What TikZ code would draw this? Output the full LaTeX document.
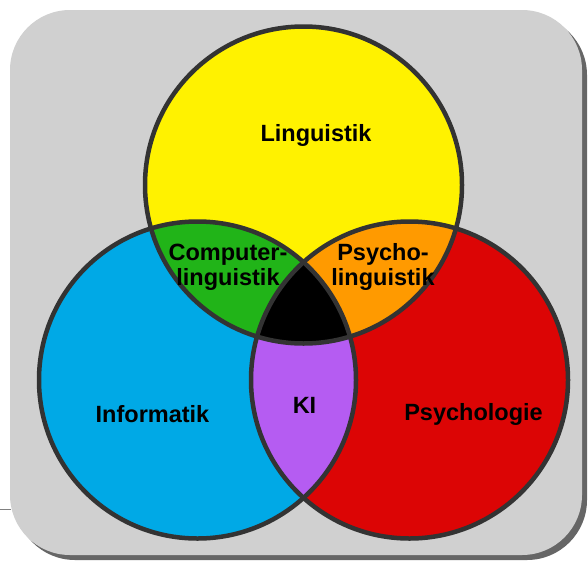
\documentclass[tikz,border=0pt]{standalone}
\usepackage{fontspec}
\setmainfont{Liberation Sans}
\definecolor{bggray}{HTML}{D0D0D0}
\definecolor{shadowgray}{HTML}{666666}
\definecolor{edge}{HTML}{333333}
\definecolor{cyellow}{HTML}{FFF200}
\definecolor{cblue}{HTML}{00A9E6}
\definecolor{cred}{HTML}{DC0505}
\definecolor{cgreen}{HTML}{21B418}
\definecolor{corange}{HTML}{FF9A00}
\definecolor{cpurple}{HTML}{B55CF2}
\tikzset{
  lbl/.style={font=\fontsize{23.5}{25}\selectfont\bfseries, inner sep=0pt, align=center, text=black},
  ring/.style={draw=edge, line width=4.5pt}
}
\begin{document}
\begin{tikzpicture}[x=1pt,y=-1pt]
\useasboundingbox (0,0) rectangle (588,562);
% stray line at left
\draw[gray, line width=1pt] (0,509) -- (11,509);
% background panel with shadow
\fill[shadowgray, rounded corners=60pt] (15,15) rectangle (587,560);
\fill[bggray, rounded corners=60pt] (10,10) rectangle (582,555);
% circle centres
\coordinate (L) at (303.5,185);
\coordinate (I) at (197.5,380);
\coordinate (P) at (409.5,380);
\def\rr{158.5pt}
% base fills
\fill[cyellow] (L) circle[radius=\rr];
\fill[cblue] (I) circle[radius=\rr];
\fill[cred] (P) circle[radius=\rr];
% pairwise intersections
\begin{scope}
  \clip (L) circle[radius=\rr];
  \fill[cgreen] (I) circle[radius=\rr];
  \fill[corange] (P) circle[radius=\rr];
\end{scope}
\begin{scope}
  \clip (I) circle[radius=\rr];
  \fill[cpurple] (P) circle[radius=\rr];
  \clip (P) circle[radius=\rr];
  \fill[black] (L) circle[radius=\rr];
\end{scope}
% outlines
\draw[ring] (L) circle[radius=\rr];
\draw[ring] (I) circle[radius=\rr];
\draw[ring] (P) circle[radius=\rr];
% labels
\node[lbl, anchor=base] (ling) at (316,141) {Linguistik};
\node[lbl, anchor=base] (info) at (152.5,422) {Informatik};
\node[lbl, anchor=base] (psy) at (473.5,420) {Psychologie};
\node[lbl, anchor=base] (ki) at (304.5,413) {KI};
\node[lbl] (cl) at (228,267) {Computer-\\linguistik};
\node[lbl] (pl) at (383,267) {Psycho-\\linguistik};
\end{tikzpicture}
\end{document}
